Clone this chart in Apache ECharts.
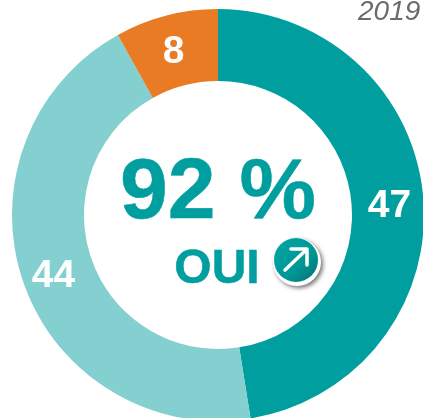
<!DOCTYPE html>
<html>
<head>
<meta charset="utf-8">
<style>
html, body { margin: 0; padding: 0; background: #fff; overflow: hidden; }
#chart { width: 423px; height: 418px; }
</style>
<script src="https://cdn.jsdelivr.net/npm/echarts@6/dist/echarts.min.js"></script>
</head>
<body>
<div id="chart"></div>
<script>
const categories = ['OUI +', 'OUI', 'NON'];
const values = [47, 44, 8];
const colors = ['#009e9f', '#84cfcf', '#e87b24'];
const year = '2019';
const centerValue = '92 %';
const centerLabel = 'OUI';

let chart = echarts.init(document.getElementById('chart'), null, { renderer: 'canvas' });
let font = '"Liberation Sans", Arial, sans-serif';

chart.setOption({
  animation: false,
  graphic: [
    { type: 'text', left: 358, top: -2, style: { text: year, font: 'italic 28px ' + font, fill: '#6b6b6b' } },
    { type: 'text', x: 218, y: 194, style: { text: centerValue, font: 'bold 86px ' + font, fill: '#009e9f', align: 'center', verticalAlign: 'middle', stroke: '#009e9f', lineWidth: 0.5 } },
    { type: 'text', x: 217, y: 270, style: { text: centerLabel, font: 'bold 48px ' + font, fill: '#009e9f', align: 'center', verticalAlign: 'middle', stroke: '#009e9f', lineWidth: 0.5 } },
    // arrow badge
    { type: 'circle', shape: { cx: 297, cy: 262, r: 24 }, style: { fill: '#fff', shadowBlur: 4, shadowOffsetX: 2, shadowOffsetY: 2, shadowColor: 'rgba(0,0,0,0.55)' } },
    { type: 'circle', shape: { cx: 296, cy: 260, r: 22 }, style: {
      fill: new echarts.graphic.LinearGradient(0, 0, 1, 1, [
        { offset: 0, color: '#00a5a4' },
        { offset: 0.6, color: '#009797' },
        { offset: 1, color: '#086e70' }
      ])
    } },
    { type: 'polyline', shape: { points: [[285, 270], [306, 250]] }, style: { stroke: '#fff', lineWidth: 3.5, lineCap: 'round', fill: null } },
    { type: 'polyline', shape: { points: [[291, 249], [307, 249], [307, 265]] }, style: { stroke: '#fff', lineWidth: 3.5, lineCap: 'round', lineJoin: 'round', fill: null } }
  ],
  series: [{
    type: 'pie',
    center: [218, 215],
    radius: [134, 206],
    startAngle: 90,
    clockwise: true,
    silent: true,
    label: {
      show: true,
      position: 'inside',
      formatter: '{c}',
      color: '#fff',
      fontFamily: font,
      fontWeight: 'bold',
      fontSize: 39,
      offset: [-1, 5]
    },
    labelLine: { show: false },
    data: categories.map((name, i) => ({
      name: name,
      value: values[i],
      itemStyle: { color: colors[i] }
    }))
  }]
});
</script>
</body>
</html>
